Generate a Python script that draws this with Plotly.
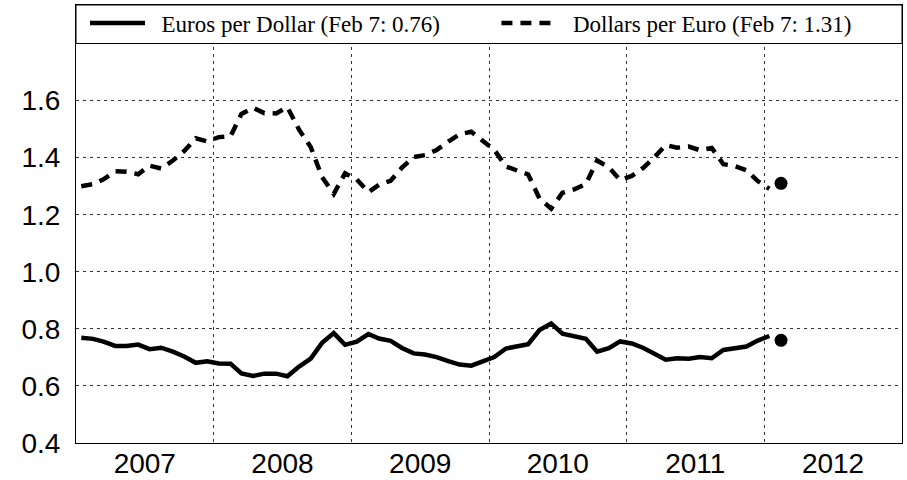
import plotly.graph_objects as go

# ---- data (monthly, mid-month points, Jan 2007 .. Jan 2012) ----
years = [2007, 2008, 2009, 2010, 2011]
months = [f"{y}-{m:02d}-15" for y in years for m in range(1, 13)] + ["2012-01-15"]

euros_per_dollar = [
    0.769, 0.765, 0.755, 0.740, 0.740, 0.745, 0.729, 0.734, 0.720, 0.703, 0.681, 0.686,
    0.679, 0.678, 0.644, 0.635, 0.643, 0.643, 0.634, 0.668, 0.696, 0.751, 0.785, 0.744,
    0.755, 0.782, 0.766, 0.758, 0.733, 0.714, 0.710, 0.701, 0.687, 0.675, 0.671, 0.684,
    0.701, 0.731, 0.737, 0.746, 0.796, 0.819, 0.783, 0.776, 0.765, 0.720, 0.732, 0.756,
    0.749, 0.733, 0.714, 0.692, 0.697, 0.695, 0.701, 0.697, 0.726, 0.730, 0.738, 0.759,
    0.775,
]
dollars_per_euro = [
    1.300, 1.307, 1.324, 1.352, 1.351, 1.342, 1.372, 1.362, 1.390, 1.423, 1.468, 1.457,
    1.472, 1.475, 1.553, 1.575, 1.556, 1.555, 1.577, 1.498, 1.437, 1.332, 1.273, 1.345,
    1.324, 1.279, 1.305, 1.319, 1.365, 1.402, 1.409, 1.427, 1.456, 1.482, 1.491, 1.461,
    1.427, 1.369, 1.357, 1.341, 1.257, 1.221, 1.277, 1.289, 1.307, 1.390, 1.366, 1.322,
    1.336, 1.365, 1.400, 1.444, 1.435, 1.439, 1.426, 1.434, 1.377, 1.371, 1.356, 1.318,
    1.291,
]

latest_date = ["2012-02-15"]
latest_euros_per_dollar = [0.76]
latest_dollars_per_euro = [1.31]

series_names = ["Euros per Dollar (Feb 7: 0.76)", "Dollars per Euro (Feb 7: 1.31)"]
y_ticks = [0.4, 0.6, 0.8, 1.0, 1.2, 1.4, 1.6]

# ---- figure ----
fig = go.Figure()
fig.add_trace(go.Scatter(
    x=months, y=euros_per_dollar, mode="lines", name="\u00a0\u00a0" + series_names[0],
    line=dict(color="black", width=4.5), legend="legend"))
fig.add_trace(go.Scatter(
    x=months, y=dollars_per_euro, mode="lines", name="\u00a0\u00a0" + series_names[1],
    line=dict(color="black", width=4.5, dash="11px,8px"), legend="legend2"))
fig.add_trace(go.Scatter(
    x=latest_date, y=latest_euros_per_dollar, mode="markers", showlegend=False,
    marker=dict(color="black", size=13)))
fig.add_trace(go.Scatter(
    x=latest_date, y=latest_dollars_per_euro, mode="markers", showlegend=False,
    marker=dict(color="black", size=13)))

grid = dict(showgrid=True, gridcolor="#333333", gridwidth=1, griddash="3px,4px")

fig.update_xaxes(
    type="date", range=["2007-01-01", "2013-01-01"],
    tick0="2007-01-01", dtick="M12", tickformat="%Y", ticklabelmode="period",
    showline=True, mirror=True, linecolor="black", linewidth=1,
    ticks="", ticklen=0, ticklabelstandoff=-5, zeroline=False, automargin=False,
    tickfont=dict(family="Liberation Sans, Arial, sans-serif", size=28, color="black"),
    **grid)
fig.update_yaxes(
    range=[0.4, 1.935], tickvals=y_ticks, tickformat=".1f",
    showline=True, mirror=True, linecolor="black", linewidth=1,
    ticks="", ticklen=0, ticklabelstandoff=9, zeroline=False, automargin=False,
    tickfont=dict(family="Liberation Sans, Arial, sans-serif", size=28, color="black"),
    **grid)

# legend frame across the top of the plot area
fig.add_shape(type="rect", xref="paper", yref="y", x0=0, x1=1, y0=1.8, y1=1.935,
              fillcolor="white", line=dict(color="black", width=1), layer="above")

legend_style = dict(orientation="h", xanchor="left", y=0.959, yanchor="middle",
                    bgcolor="rgba(0,0,0,0)", borderwidth=0, itemwidth=55,
                    font=dict(family="Liberation Serif, Times New Roman, serif",
                              size=23, color="black"))

fig.update_layout(
    width=907, height=480,
    margin=dict(l=76, r=5, t=5, b=37, autoexpand=False),
    paper_bgcolor="white", plot_bgcolor="white",
    showlegend=True,
    legend=dict(x=0.0109, **legend_style),
    legend2=dict(x=0.509, **legend_style),
)

fig.write_html("out.html", config={"displayModeBar": False},
               post_script="document.body.style.margin='0';")
